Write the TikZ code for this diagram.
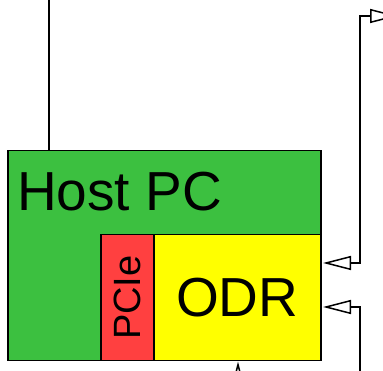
\documentclass[tikz,border=0pt]{standalone}
\usepackage{fontspec}
\setmainfont{Liberation Sans}
\usetikzlibrary{arrows.meta}
\definecolor{hostgreen}{RGB}{60,192,64}
\definecolor{pciered}{RGB}{255,64,64}
\definecolor{odryellow}{RGB}{255,255,0}
\newcommand\labelfont{\fontsize{55}{62}\selectfont}
\newcommand\slotfont{\fontsize{38}{44}\selectfont}
\tikzset{
  box/.style={draw, line width=1.5pt, inner sep=0pt, anchor=north west},
  wire/.style={line width=1.5pt},
  link/.style={wire, -{Triangle[open, length=28pt, width=14pt, line width=1.5pt]}},
  bilink/.style={wire, {Triangle[open, length=28pt, width=14pt, line width=1.5pt]}-{Triangle[open, length=28pt, width=14pt, line width=1.5pt]}}
}
\begin{document}
\begin{tikzpicture}[x=1pt,y=-1pt]
\useasboundingbox (0,0) rectangle (383,371);
\clip (0,0) rectangle (383,371);

\node[box, fill=hostgreen, minimum width=313pt, minimum height=210pt] (host) at (7,150) {};
\node[box, fill=pciered, minimum width=53pt, minimum height=126pt] (pcie) at (100,234) {};
\node[box, fill=odryellow, minimum width=167pt, minimum height=126pt, font=\labelfont] (odr) at (153,234) {ODR};
\node[anchor=base west, inner sep=0pt, font=\labelfont] (hostname) at (17,211) {Host PC};
\node[rotate=90, inner sep=0pt, font=\slotfont] (pcietext) at (pcie.center) {PCIe};

\coordinate (up) at (49,0);
\coordinate (rtop) at (398,16);  \coordinate (rbend) at (360,16);
\coordinate (rin1) at (323,263); \coordinate (rbus1) at (360,263);
\coordinate (rin2) at (323,307); \coordinate (rbus2) at (360,307);
\coordinate (rlow) at (360,400);
\coordinate (down) at (238,400);

\draw[wire] (host.north -| up) -- (up);
\draw[bilink] (rtop) -- (rbend) -- (rbus1) -- (rin1);
\draw[link] (rlow) -- (rbus2) -- (rin2);
\draw[link] (down) -- (host.south -| down);
\end{tikzpicture}
\end{document}
